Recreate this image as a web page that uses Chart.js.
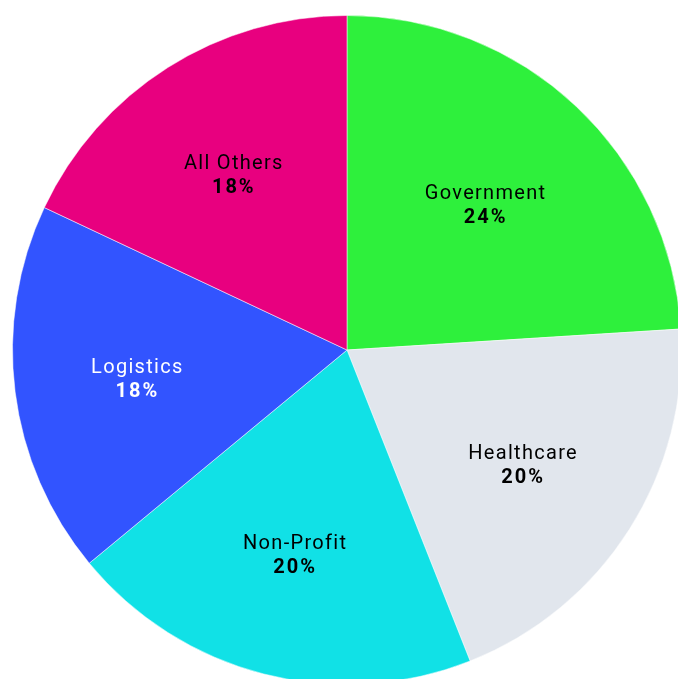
<!DOCTYPE html>
<html>
<head>
<meta charset="utf-8">
<script src="https://cdn.jsdelivr.net/npm/chart.js@4"></script>
<style>
  html, body { margin: 0; padding: 0; background: #fff; overflow: hidden; }
  #wrap { position: absolute; left: 0; top: 0; width: 694px; height: 700px; }
</style>
</head>
<body>
<div id="wrap"><canvas id="sectorChart"></canvas></div>
<script>
var labels = ['Government', 'Healthcare', 'Non-Profit', 'Logistics', 'All Others'];
var shares = [24, 20, 20, 18, 18];
var colors = ['#2ef03c', '#e1e6ed', '#11e1e6', '#3254ff', '#e8007f'];
var textColors = ['#000', '#000', '#000', '#fff', '#000'];

// put each label at the centroid of its slice
var sliceLabels = {
    id: 'sliceLabels',
    afterDatasetsDraw: function (chart) {
        var ctx = chart.ctx;
        var meta = chart.getDatasetMeta(0);
        ctx.save();
        ctx.textAlign = 'center';
        ctx.textBaseline = 'middle';
        meta.data.forEach(function (arc, i) {
            var p = arc.getProps(['x', 'y', 'startAngle', 'endAngle', 'outerRadius'], true);
            var half = (p.endAngle - p.startAngle) / 2;
            var mid = p.startAngle + half;
            var r = p.outerRadius * (2 / 3) * Math.sin(half) / half;
            var x = p.x + Math.cos(mid) * r;
            var y = p.y + Math.sin(mid) * r + 4;
            ctx.fillStyle = textColors[i];
            ctx.letterSpacing = '1.3px';
            ctx.font = '20px Roboto';
            ctx.fillText(labels[i], x, y - 12);
            ctx.letterSpacing = '2px';
            ctx.font = 'bold 20px Roboto';
            ctx.fillText(shares[i] + '%', x, y + 12);
        });
        ctx.restore();
    }
};

new Chart(document.getElementById('sectorChart'), {
    type: 'pie',
    data: {
        labels: labels,
        datasets: [{
            data: shares,
            backgroundColor: colors,
            borderColor: 'rgba(255,255,255,0.5)',
            borderWidth: 1
        }]
    },
    options: {
        responsive: true,
        maintainAspectRatio: false,
        animation: false,
        layout: { padding: 12 },
        plugins: {
            legend: { display: false },
            tooltip: { enabled: false }
        }
    },
    plugins: [sliceLabels]
});
</script>
</body>
</html>
